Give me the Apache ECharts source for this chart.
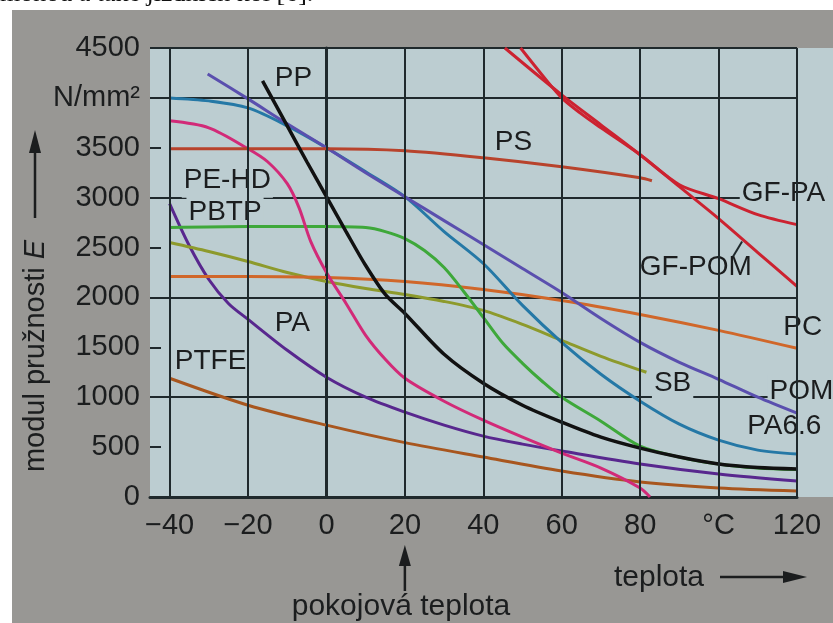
<!DOCTYPE html>
<html><head><meta charset="utf-8">
<script src="https://cdn.jsdelivr.net/npm/echarts@6/dist/echarts.min.js"></script>
<style>html,body{margin:0;padding:0;background:#fff}#c{width:833px;height:623px}</style>
</head><body><div id="c"></div>
<script>
// ---- axis ticks ----
const xTicks = [-40, -20, 0, 20, 40, 60, 80, 100, 120];
const xTickLabels = ['\u221240', '\u221220', '0', '20', '40', '60', '80', '\u00b0C', '120'];
const yTicks = [0, 500, 1000, 1500, 2000, 2500, 3000, 3500, 4000, 4500];
const yTickLabels = ['0', '500', '1000', '1500', '2000', '2500', '3000', '3500', 'N/mm\u00b2', '4500'];

// ---- curves: temperature (°C) and modulus E (N/mm²) ----
const gfpaT = [49.5, 55, 60, 65, 70, 80, 90, 100, 110, 120];
const gfpaE = [4500, 4230, 4000, 3840, 3700, 3430, 3130, 2990, 2830, 2730];
const gfpomT = [45.5, 60, 70, 80, 90, 100, 110, 120];
const gfpomE = [4500, 4030, 3730, 3430, 3110, 2790, 2450, 2110];
const psT = [-40, -20, 0, 20, 40, 60, 80, 83];
const psE = [3490, 3490, 3490, 3470, 3400, 3310, 3200, 3170];
const ppT = [-16.3, -10, -5, 0, 5, 10, 15, 20, 30, 40, 50, 60, 70, 80, 90, 100, 110, 120];
const ppE = [4170, 3720, 3360, 3010, 2660, 2320, 2030, 1840, 1430, 1140, 920, 750, 600, 490, 400, 330, 295, 280];
const pehdT = [-40, -30, -20, -15, -10, -7, -4, 0, 5, 10, 15, 20, 30, 40, 50, 60, 70, 80, 82.5];
const pehdE = [3770, 3700, 3490, 3360, 3140, 2900, 2560, 2250, 1940, 1620, 1380, 1190, 960, 770, 600, 440, 290, 90, 0];
const pomT = [-30.3, -20, -10, 0, 10, 20, 30, 40, 50, 60, 70, 80, 90, 100, 110, 120];
const pomE = [4240, 3990, 3740, 3500, 3250, 3010, 2770, 2530, 2290, 2050, 1790, 1550, 1350, 1180, 1000, 840];
const pa66T = [-40, -30, -20, -10, 0, 10, 20, 30, 40, 50, 60, 70, 80, 90, 100, 110, 120];
const pa66E = [4000, 3970, 3900, 3720, 3500, 3260, 3010, 2660, 2340, 1920, 1550, 1230, 960, 730, 570, 470, 430];
const pcT = [-40, -20, 0, 20, 40, 60, 80, 100, 120];
const pcE = [2210, 2210, 2200, 2160, 2080, 1970, 1830, 1670, 1490];
const pbtpT = [-40, -20, 0, 10, 15, 20, 25, 30, 35, 40, 45, 50, 55, 60, 70, 80, 90, 100, 110, 120];
const pbtpE = [2700, 2710, 2710, 2700, 2660, 2590, 2470, 2300, 2060, 1800, 1540, 1340, 1160, 1000, 760, 510, 400, 330, 290, 275];
const sbT = [-40, -30, -20, -10, 0, 10, 20, 30, 40, 50, 60, 70, 81.6];
const sbE = [2550, 2460, 2360, 2250, 2160, 2090, 2030, 1960, 1870, 1730, 1570, 1410, 1250];
const paT = [-40, -35, -30, -25, -20, -10, 0, 10, 20, 30, 40, 50, 60, 80, 100, 120];
const paE = [2940, 2520, 2180, 1940, 1780, 1470, 1200, 1000, 850, 720, 610, 530, 460, 330, 230, 160];
const ptfeT = [-40, -20, 0, 20, 40, 60, 80, 100, 120];
const ptfeE = [1190, 920, 720, 545, 400, 260, 150, 90, 60];

// ---- curve labels (anchor in data coordinates) ----
const labelTexts = ['PP', 'PS', 'PE-HD', 'PBTP', 'PA', 'PTFE', 'GF-PA', 'GF-POM', 'PC', 'POM', 'PA6.6', 'SB'];
const labelT = [-13.7, 42.4, -36.9, -35.7, -13.7, -39.2, 105.4, 79.4, 116, 112.5, 106.8, 83];
const labelE = [4200, 3560, 3170, 2850, 1740, 1360, 3040, 2300, 1700, 1060, 710, 1140];

const FONT = '"Liberation Sans", Arial, sans-serif';
const INK = '#1b1d1e';
const GRID = '#1f292c';
const PLOT_BG = '#bccdd1';
const PAGE_BG = '#989794';

const curves = [
  { T: ptfeT, E: ptfeE, color: '#a8561e' },
  { T: paT, E: paE, color: '#58278e' },
  { T: sbT, E: sbE, color: '#8d9a2c' },
  { T: pcT, E: pcE, color: '#d0672a' },
  { T: pbtpT, E: pbtpE, color: '#3ea83a' },
  { T: pehdT, E: pehdE, color: '#d22a78' },
  { T: pa66T, E: pa66E, color: '#2578a6' },
  { T: pomT, E: pomE, color: '#5a4fae' },
  { T: psT, E: psE, color: '#b8432c' },
  { T: gfpomT, E: gfpomE, color: '#cc2230' },
  { T: gfpaT, E: gfpaE, color: '#cc2230' },
  { T: ppT, E: ppE, color: '#111111', w: 3.5 }
];

const chart = echarts.init(document.getElementById('c'), null, { renderer: 'canvas', width: 833, height: 623 });

const series = curves.map(c => ({
  type: 'line',
  data: c.T.map((t, i) => [t, c.E[i]]),
  smooth: 0.3,
  symbol: 'none',
  silent: true,
  lineStyle: { color: c.color, width: c.w || 3 },
  z: 3
}));
// vertical grid lines
series.unshift({
  type: 'line', data: [[xTicks[0], 0]], symbol: 'none', silent: true,
  lineStyle: { opacity: 0 }, z: 1,
  markLine: {
    silent: true, symbol: ['none', 'none'], label: { show: false },
    lineStyle: { color: GRID, width: 2, type: 'solid' },
    emphasis: { disabled: true },
    data: xTicks.map(v => ({ xAxis: v }))
  }
});

chart.setOption({
  animation: false,
  backgroundColor: PAGE_BG,
  grid: { left: 150, right: 36, top: 48, bottom: 126, show: true, backgroundColor: PLOT_BG, borderWidth: 0 },
  xAxis: {
    type: 'value', min: -45, max: 120,
    axisLine: { show: true, onZero: false, lineStyle: { color: GRID, width: 3 } },
    axisTick: { show: false },
    splitLine: { show: false },
    axisLabel: {
      customValues: xTicks,
      formatter: v => xTickLabels[xTicks.indexOf(v)],
      fontFamily: FONT, fontSize: 29, color: INK, margin: 14
    }
  },
  yAxis: [{
    type: 'value', min: 0, max: 4500, interval: 1000,
    axisLine: { show: true, lineStyle: { color: GRID, width: 3 } },
    axisTick: { show: false },
    axisLabel: { show: false },
    splitLine: { show: true, lineStyle: { color: GRID, width: 2 } }
  }, {
    type: 'value', min: 0, max: 4500, interval: 500, position: 'left',
    axisLine: { show: false },
    axisTick: { show: true, inside: true, length: 11, lineStyle: { color: GRID, width: 2 } },
    splitLine: { show: false },
    axisLabel: {
      formatter: v => yTickLabels[yTicks.indexOf(v)],
      fontFamily: FONT, fontSize: 29, color: INK, margin: 10
    }
  }],
  series: series
});

const px = (t, e) => chart.convertToPixel({ gridIndex: 0 }, [t, e]);
const g = [];
// white paper margins of the photo
g.push({ type: 'rect', shape: { x: 0, y: 0, width: 833, height: 10 }, style: { fill: '#ffffff' }, z: 50, silent: true });
g.push({ type: 'rect', shape: { x: 0, y: 0, width: 12, height: 623 }, style: { fill: '#ffffff' }, z: 50, silent: true });
g.push({ type: 'text', x: 0, y: 7, z: 51, silent: true,
  style: { text: 'mohou a také jízdních kol [6].', font: '26px "Liberation Serif", serif', fill: '#111', verticalAlign: 'bottom', align: 'left' } });
// plot background continuing to the right edge of the photo
const tr = px(120, 4500), br = px(120, 0);
g.push({ type: 'rect', shape: { x: tr[0] + 1, y: tr[1], width: 833 - tr[0], height: br[1] - tr[1] }, style: { fill: PLOT_BG }, z: 0, silent: true });
// curve labels (background knocks out the grid, curves stay on top)
labelTexts.forEach((t, i) => {
  const p = px(labelT[i], labelE[i]);
  g.push({ type: 'text', x: p[0], y: p[1], z: 2, silent: true,
    style: { text: t, font: '28px ' + FONT, fill: INK, align: 'left', verticalAlign: 'middle',
      backgroundColor: PLOT_BG, padding: [3, 2] } });
});
// GF-POM leader tick
const l1 = px(103.7, 2410), l2 = px(106, 2560);
g.push({ type: 'line', shape: { x1: l1[0], y1: l1[1], x2: l2[0], y2: l2[1] }, style: { stroke: GRID, lineWidth: 2 }, z: 4, silent: true });
// y axis name with arrow
g.push({ type: 'text', x: 36, y: 356, rotation: Math.PI / 2, z: 5, silent: true,
  style: { text: '{a|modul pružnosti }{e|E}', align: 'center', verticalAlign: 'middle', fill: INK,
    rich: { a: { fontFamily: FONT, fontSize: 29, fill: INK }, e: { fontFamily: FONT, fontSize: 29, fontStyle: 'italic', fill: INK } } } });
g.push({ type: 'line', shape: { x1: 35, y1: 218, x2: 35, y2: 150 }, style: { stroke: INK, lineWidth: 2.5 }, z: 5, silent: true });
g.push({ type: 'polygon', shape: { points: [[35, 130], [29, 153], [41, 153]] }, style: { fill: INK }, z: 5, silent: true });
// x axis name with arrow
g.push({ type: 'text', x: 659, y: 578, z: 5, silent: true,
  style: { text: 'teplota', font: '30px ' + FONT, fill: INK, align: 'center', verticalAlign: 'middle' } });
g.push({ type: 'line', shape: { x1: 720, y1: 577, x2: 786, y2: 577 }, style: { stroke: INK, lineWidth: 2.5 }, z: 5, silent: true });
g.push({ type: 'polygon', shape: { points: [[807, 577], [783, 571], [783, 583]] }, style: { fill: INK }, z: 5, silent: true });
// room temperature marker
const rt = px(20, 0);
g.push({ type: 'line', shape: { x1: rt[0], y1: 591, x2: rt[0], y2: 562 }, style: { stroke: INK, lineWidth: 2.5 }, z: 5, silent: true });
g.push({ type: 'polygon', shape: { points: [[rt[0], 545], [rt[0] - 6, 566], [rt[0] + 6, 566]] }, style: { fill: INK }, z: 5, silent: true });
g.push({ type: 'text', x: 401, y: 607, z: 5, silent: true,
  style: { text: 'pokojová teplota', font: '30px ' + FONT, fill: INK, align: 'center', verticalAlign: 'middle' } });

chart.setOption({ graphic: g });
</script>
</body></html>
